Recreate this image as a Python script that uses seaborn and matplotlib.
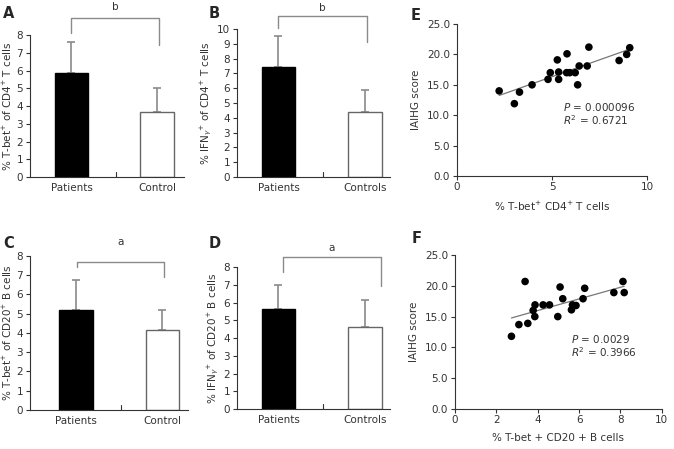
import numpy as np
import pandas as pd
import matplotlib
matplotlib.use("Agg")
import matplotlib.pyplot as plt
import seaborn as sns

sns.set_style("ticks")
plt.rcParams['font.family'] = ['DejaVu Sans']
plt.rcParams['mathtext.fontset'] = 'dejavusans'

# bar panels
groups_ac = ['Patients', 'Control']
groups_bd = ['Patients', 'Controls']
a_mean = [5.85, 3.65]
a_err = [1.75, 1.35]
b_mean = [7.45, 4.4]
b_err = [2.05, 1.45]
c_mean = [5.2, 4.17]
c_err = [1.55, 1.0]
d_mean = [5.65, 4.6]
d_err = [1.35, 1.55]

# scatter panels
e_x = [2.22, 3.02, 3.29, 3.95, 4.79, 4.91, 5.28, 5.35, 5.35, 5.79, 5.77, 5.93,
       6.22, 6.35, 6.43, 6.85, 6.94, 8.53, 8.93, 9.09]
e_y = [14.0, 11.9, 13.8, 15.0, 15.9, 17.0, 19.1, 17.1, 15.9, 20.1, 17.0, 17.0,
       17.0, 15.0, 18.1, 18.1, 21.2, 19.0, 20.0, 21.1]
f_x = [2.73, 3.09, 3.39, 3.52, 3.78, 3.86, 3.87, 4.26, 4.57, 4.97, 5.08, 5.21,
       5.63, 5.68, 5.85, 6.27, 6.19, 7.68, 8.12, 8.18]
f_y = [11.8, 13.7, 20.7, 13.9, 16.0, 15.0, 16.9, 16.9, 16.9, 15.0, 19.8, 17.9,
       16.1, 16.9, 16.8, 19.6, 17.9, 18.9, 20.7, 18.9]

INK = '#333333'
GREY = '#8a8a8a'
W, H = 674, 449

fig = plt.figure(figsize=(6.74, 4.49), dpi=100)


def letter(px, py, txt):
    # panel letter placed by its top-left corner in pixels
    fig.text(px / W, 1 - py / H, txt, fontsize=10.5, fontweight='bold',
             va='top', ha='left')


def style(ax):
    sns.despine(ax=ax)
    for s in ['left', 'bottom']:
        ax.spines[s].set_color(INK)
        ax.spines[s].set_linewidth(0.8)
    ax.tick_params(axis='y', length=3, width=0.8, color=INK, labelsize=7.5,
                   labelcolor=INK, pad=2)
    ax.tick_params(axis='x', width=0.8, color=INK, labelsize=7.5, labelcolor=INK)


def bar_panel(rect, cats, means, errs, ylim, yticks, ylabel, xlim, mid, bracket, star):
    ax = fig.add_axes(rect)
    df = pd.DataFrame({'group': cats, 'value': means})
    sns.barplot(data=df, x='group', y='value', hue='group', palette=['black', 'white'],
                width=0.39, errorbar=None, legend=False, ax=ax)
    for p, c in zip(ax.patches, ['black', '#666666']):
        p.set_edgecolor(c)
        p.set_linewidth(1.0)
    ax.errorbar([0, 1], means, yerr=[[0, 0], errs], fmt='none', ecolor=GREY,
                elinewidth=1.2, capsize=3, capthick=1.2, zorder=0)
    ax.set_xlim(*xlim)
    ax.set_ylim(*ylim)
    ax.set_yticks(yticks)
    ax.set_xticks([0, 1])
    ax.set_xticklabels(cats)
    ax.tick_params(axis='x', length=0, pad=4)
    ax.set_xlabel('')
    ax.set_ylabel(ylabel, fontsize=7.5, color=INK, labelpad=2)
    # inward middle tick on x axis
    ax.plot([mid, mid], [0, ylim[1] * 0.035], color=INK, lw=0.8, clip_on=False)
    x0, x1, ytop, yl, yr, ys = bracket
    ax.plot([x0, x0, x1, x1], [yl, ytop, ytop, yr], color=GREY, lw=1.0, clip_on=False)
    ax.text((x0 + x1) / 2, ys, star, ha='center', va='center', fontsize=7.5, color=INK)
    style(ax)
    return ax


def scatter_panel(rect, xs, ys, xticks, xlabel, ptxt, rtxt):
    ax = fig.add_axes(rect)
    sns.regplot(x=np.array(xs), y=np.array(ys), ci=None, ax=ax,
                scatter_kws=dict(s=30, color='black', edgecolor='none', alpha=1, zorder=3),
                line_kws=dict(color='#777777', lw=0.9, zorder=2))
    ax.set_xlim(0, 10)
    ax.set_ylim(0, 25)
    ax.set_xticks(xticks)
    ax.set_yticks([0, 5, 10, 15, 20, 25])
    ax.set_yticklabels(['0.0', '5.0', '10.0', '15.0', '20.0', '25.0'])
    ax.set_xlabel(xlabel, fontsize=7.5, color=INK, labelpad=6)
    ax.set_ylabel('IAIHG score', fontsize=7.5, color=INK, labelpad=4)
    ax.text(5.6, 11.3, ptxt, fontsize=7.5, color=INK, va='center')
    ax.text(5.6, 9.2, rtxt, fontsize=7.5, color=INK, va='center')
    style(ax)
    ax.tick_params(axis='x', length=3, pad=1)
    return ax


bar_panel([0.0445, 0.6058, 0.2285, 0.316], groups_ac, a_mean, a_err, (0, 8),
          range(0, 9), r'% T-bet$^{+}$ of CD4$^{+}$ T cells', (-0.485, 1.316), 0.52,
          (0.0, 1.02, 8.96, 8.1, 7.44, 9.6), 'b')
bar_panel([0.3516, 0.6058, 0.227, 0.3296], groups_bd, b_mean, b_err, (0, 10),
          range(0, 11), r'% IFN$_{\gamma}$$^{+}$ of CD4$^{+}$ T cells', (-0.48, 1.29), 0.52,
          (0.0, 1.02, 10.88, 10.07, 9.12, 11.4), 'b')
bar_panel([0.0445, 0.0869, 0.2344, 0.343], groups_ac, c_mean, c_err, (0, 8),
          range(0, 9), r'% T-bet$^{+}$ of CD20$^{+}$ B cells', (-0.53, 1.295), 0.52,
          (0.01, 1.02, 7.69, 7.43, 6.9, 8.7), 'a')
bar_panel([0.3516, 0.0891, 0.227, 0.316], groups_bd, d_mean, d_err, (0, 8),
          range(0, 9), r'% IFN$_{\gamma}$$^{+}$ of CD20$^{+}$ B cells', (-0.48, 1.29), 0.52,
          (0.05, 1.19, 8.56, 7.72, 6.95, 9.07), 'a')

scatter_panel([0.678, 0.608, 0.282, 0.3385], e_x, e_y, [0, 5, 10],
              r'% T-bet$^{+}$ CD4$^{+}$ T cells', r'$P$ = 0.000096', r'$R^2$ = 0.6721')
scatter_panel([0.675, 0.0891, 0.307, 0.343], f_x, f_y, [0, 2, 4, 6, 8, 10],
              '% T-bet + CD20 + B cells', r'$P$ = 0.0029', r'$R^2$ = 0.3966')

letter(3, 6, 'A')
letter(209, 6, 'B')
letter(411, 8, 'E')
letter(3, 236, 'C')
letter(209, 236, 'D')
letter(412, 231, 'F')

fig.savefig('out.png', dpi=100)
